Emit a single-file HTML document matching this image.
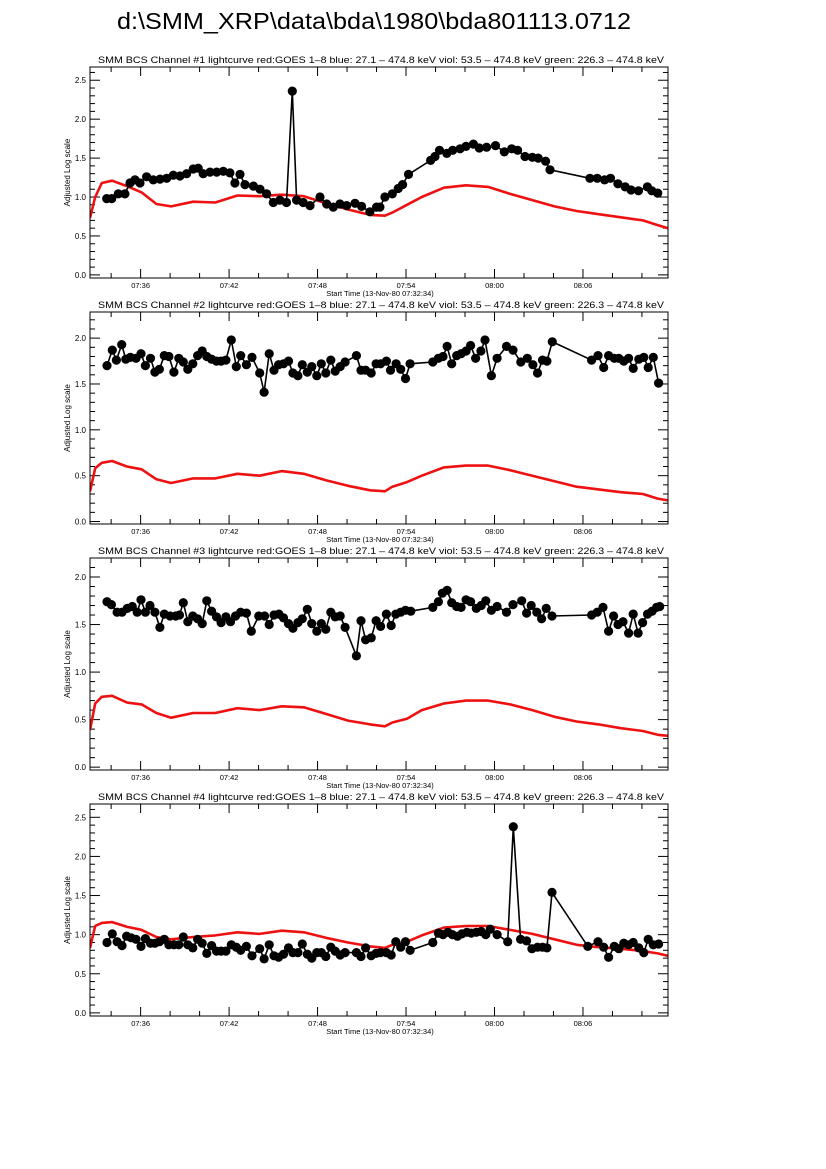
<!DOCTYPE html>
<html><head><meta charset="utf-8">
<style>
html,body{margin:0;padding:0;background:#fff;}
svg{display:block;}
text{font-family:"Liberation Sans",Arial,sans-serif;fill:#000;}
</style></head>
<body>
<svg id="chart" width="826" height="1169" viewBox="0 0 826 1169" xmlns="http://www.w3.org/2000/svg">
<rect x="0" y="0" width="826" height="1169" fill="#fff"/>
<text x="117" y="29" font-size="23" textLength="514" lengthAdjust="spacingAndGlyphs">d:\SMM_XRP\data\bda\1980\bda801113.0712</text>
</svg>
<script>
// GOES time axis (minutes after 07:32:34)
const goesT=[0,0.35,0.8,1.5,2.5,3.5,4.5,5.5,7,8.5,10,11.5,13,14.5,16,17.5,19,20,20.5,21.5,22.5,24,25.5,27,28.5,30,31.5,33,34.5,36,37.5,38.5,39.2];
const ch1Goes=[0.73,1.0,1.18,1.21,1.14,1.06,0.91,0.88,0.94,0.93,1.02,1.01,1.03,1.01,0.92,0.84,0.77,0.76,0.80,0.90,1.0,1.12,1.15,1.13,1.04,0.96,0.88,0.82,0.78,0.74,0.70,0.64,0.60];
const ch2Goes=[0.33,0.58,0.64,0.66,0.60,0.57,0.46,0.42,0.47,0.47,0.52,0.50,0.55,0.52,0.45,0.39,0.34,0.33,0.38,0.43,0.50,0.59,0.61,0.61,0.56,0.50,0.44,0.38,0.35,0.32,0.30,0.25,0.23];
const ch3Goes=[0.39,0.67,0.74,0.75,0.68,0.66,0.57,0.52,0.57,0.57,0.62,0.60,0.64,0.63,0.56,0.49,0.45,0.43,0.47,0.51,0.60,0.67,0.70,0.70,0.66,0.60,0.53,0.48,0.45,0.41,0.38,0.34,0.33];
const ch4Goes=[0.83,1.11,1.15,1.16,1.10,1.06,0.97,0.94,0.97,0.99,1.03,1.01,1.05,1.03,0.96,0.90,0.85,0.83,0.87,0.91,0.99,1.09,1.11,1.11,1.06,1.01,0.94,0.87,0.84,0.82,0.79,0.76,0.73];

const ch1T=[1.13,1.47,1.92,2.37,2.71,3.05,3.39,3.84,4.29,4.75,5.2,5.65,6.1,6.55,7.0,7.34,7.68,8.14,8.59,9.04,9.49,9.83,10.17,10.51,11.08,11.53,11.98,12.43,12.88,13.33,13.72,14.01,14.46,14.92,15.6,16.05,16.5,16.95,17.4,17.97,18.42,18.98,19.44,19.66,20.0,20.5,20.9,21.2,21.6,23.1,23.4,23.7,24.2,24.6,25.1,25.5,26.0,26.4,26.9,27.5,28.1,28.6,29.0,29.5,30.0,30.4,30.9,31.2,33.9,34.4,34.9,35.3,35.8,36.3,36.7,37.2,37.8,38.1,38.5];
const ch1V=[0.98,0.98,1.04,1.04,1.18,1.22,1.18,1.26,1.22,1.23,1.24,1.28,1.27,1.30,1.36,1.37,1.30,1.32,1.32,1.33,1.31,1.18,1.29,1.16,1.14,1.10,1.04,0.93,0.96,0.93,2.36,0.96,0.93,0.89,1.0,0.91,0.87,0.91,0.89,0.92,0.88,0.81,0.87,0.87,1.0,1.04,1.11,1.16,1.29,1.47,1.52,1.60,1.56,1.60,1.62,1.65,1.68,1.63,1.64,1.66,1.58,1.62,1.60,1.52,1.51,1.50,1.46,1.35,1.24,1.24,1.22,1.24,1.17,1.13,1.09,1.08,1.13,1.08,1.05];

const ch2T=[1.15,1.51,1.79,2.15,2.43,2.74,3.12,3.46,3.76,4.10,4.40,4.71,5.04,5.35,5.69,6.02,6.33,6.63,6.97,7.30,7.61,7.92,8.25,8.58,8.89,9.22,9.58,9.92,10.22,10.61,10.99,11.51,11.81,12.15,12.48,12.79,13.12,13.46,13.76,14.10,14.40,14.74,15.04,15.38,15.69,15.99,16.33,16.63,16.97,17.30,18.07,18.38,18.69,19.07,19.40,19.71,20.10,20.38,20.76,21.07,21.40,21.71,23.25,23.63,23.94,24.22,24.53,24.87,25.17,25.51,25.81,26.15,26.51,26.79,27.22,27.61,28.25,28.69,29.22,29.66,30.04,30.35,30.69,30.99,31.35,34.02,34.45,34.84,35.17,35.56,35.86,36.20,36.53,36.84,37.22,37.56,37.86,38.20,38.56];
const ch2V=[1.70,1.87,1.76,1.93,1.77,1.79,1.78,1.83,1.70,1.78,1.63,1.66,1.81,1.80,1.63,1.78,1.74,1.66,1.72,1.81,1.86,1.80,1.77,1.75,1.75,1.76,1.98,1.69,1.81,1.71,1.79,1.62,1.41,1.83,1.65,1.71,1.72,1.75,1.62,1.59,1.71,1.63,1.69,1.59,1.72,1.62,1.76,1.64,1.69,1.74,1.81,1.65,1.65,1.62,1.72,1.72,1.75,1.65,1.72,1.66,1.56,1.72,1.74,1.78,1.80,1.91,1.72,1.81,1.83,1.86,1.92,1.78,1.86,1.98,1.59,1.78,1.91,1.87,1.74,1.78,1.71,1.62,1.76,1.75,1.96,1.76,1.81,1.68,1.81,1.78,1.78,1.75,1.78,1.67,1.77,1.79,1.68,1.79,1.51];

const ch3T=[1.15,1.45,1.84,2.17,2.53,2.87,3.20,3.46,3.76,4.07,4.40,4.74,5.04,5.43,5.81,6.07,6.33,6.63,6.97,7.30,7.61,7.92,8.25,8.58,8.89,9.22,9.53,9.87,10.22,10.61,10.94,11.45,11.84,12.15,12.48,12.81,13.12,13.46,13.76,14.10,14.40,14.74,15.04,15.38,15.69,15.99,16.33,16.63,16.97,17.30,18.07,18.38,18.69,19.07,19.40,19.71,20.10,20.43,20.74,21.07,21.40,21.76,23.25,23.63,23.89,24.22,24.53,24.87,25.17,25.51,25.81,26.20,26.53,26.84,27.22,27.61,28.25,28.69,29.28,29.61,29.92,30.30,30.63,30.94,31.33,34.02,34.40,34.79,35.17,35.51,35.81,36.15,36.53,36.84,37.17,37.48,37.81,38.12,38.43,38.64];
const ch3V=[1.74,1.71,1.63,1.63,1.67,1.69,1.63,1.76,1.63,1.70,1.63,1.47,1.61,1.59,1.59,1.60,1.73,1.53,1.59,1.56,1.51,1.75,1.64,1.58,1.52,1.58,1.53,1.59,1.63,1.62,1.43,1.59,1.59,1.50,1.60,1.61,1.57,1.51,1.46,1.52,1.56,1.66,1.51,1.43,1.51,1.45,1.63,1.58,1.59,1.47,1.17,1.54,1.34,1.36,1.54,1.48,1.61,1.49,1.61,1.63,1.65,1.64,1.68,1.74,1.83,1.86,1.73,1.69,1.68,1.76,1.74,1.67,1.70,1.75,1.65,1.69,1.63,1.71,1.75,1.62,1.70,1.63,1.56,1.67,1.59,1.60,1.63,1.68,1.43,1.59,1.50,1.53,1.41,1.61,1.41,1.52,1.61,1.64,1.68,1.69];

const ch4T=[1.15,1.51,1.84,2.17,2.48,2.79,3.12,3.46,3.76,4.10,4.40,4.71,5.04,5.35,5.69,6.02,6.33,6.63,6.97,7.30,7.61,7.92,8.25,8.58,8.89,9.22,9.58,9.92,10.22,10.61,10.99,11.51,11.81,12.15,12.48,12.79,13.12,13.46,13.76,14.10,14.40,14.74,15.04,15.38,15.69,15.99,16.33,16.63,16.97,17.30,18.07,18.38,18.69,19.07,19.40,19.71,20.10,20.43,20.74,21.07,21.40,21.71,23.25,23.63,23.94,24.27,24.58,24.92,25.22,25.56,25.86,26.20,26.53,26.84,27.15,27.61,28.33,28.71,29.20,29.61,29.97,30.35,30.69,30.99,31.33,33.76,34.45,34.84,35.17,35.56,35.86,36.20,36.53,36.84,37.22,37.56,37.86,38.20,38.56];
const ch4V=[0.90,1.01,0.91,0.86,0.98,0.96,0.94,0.85,0.95,0.89,0.89,0.91,0.94,0.87,0.87,0.87,0.97,0.87,0.83,0.94,0.89,0.76,0.86,0.79,0.79,0.79,0.87,0.84,0.80,0.85,0.73,0.82,0.69,0.87,0.73,0.71,0.75,0.83,0.77,0.77,0.88,0.75,0.70,0.77,0.77,0.72,0.84,0.79,0.74,0.77,0.77,0.72,0.83,0.73,0.76,0.77,0.77,0.74,0.91,0.84,0.91,0.80,0.90,1.02,1.00,1.03,1.00,0.98,1.01,1.03,1.02,1.03,1.04,1.00,1.07,1.00,0.91,2.38,0.94,0.92,0.82,0.84,0.84,0.83,1.54,0.85,0.91,0.84,0.71,0.85,0.82,0.89,0.87,0.90,0.83,0.77,0.94,0.87,0.88];

const yTickVals1=[0.0,0.5,1.0,1.5,2.0,2.5];
const yTickVals2=[0.0,0.5,1.0,1.5,2.0];
const xTickLabels=["07:36","07:42","07:48","07:54","08:00","08:06"];
const xTickTimes=[3.433,9.433,15.433,21.433,27.433,33.433];

const NS="http://www.w3.org/2000/svg";
const svg=document.getElementById('chart');
function mk(tag,attrs,parent){const e=document.createElementNS(NS,tag);for(const k in attrs)e.setAttribute(k,attrs[k]);(parent||svg).appendChild(e);return e;}

const L=90,R=668,TMAX=39.2;
const panels=[
 {n:1,top:67,bot:278,ymin:-0.04,ymax:2.67,ticks:yTickVals1,goes:ch1Goes,t:ch1T,v:ch1V},
 {n:2,top:312,bot:524,ymin:-0.027,ymax:2.285,ticks:yTickVals2,goes:ch2Goes,t:ch2T,v:ch2V},
 {n:3,top:558,bot:770,ymin:-0.03,ymax:2.2,ticks:yTickVals2,goes:ch3Goes,t:ch3T,v:ch3V},
 {n:4,top:804,bot:1016,ymin:-0.04,ymax:2.67,ticks:yTickVals1,goes:ch4Goes,t:ch4T,v:ch4V}
];
const xs=t=>L+(R-L)*t/TMAX;

panels.forEach(p=>{
 const ys=v=>p.bot-(p.bot-p.top)*(v-p.ymin)/(p.ymax-p.ymin);
 const g=mk('g',{});
 
 
 const title=mk('text',{x:98,y:p.top-4,'font-size':9.3,textLength:566,lengthAdjust:'spacingAndGlyphs'},g);
 title.textContent='SMM BCS Channel #'+p.n+' lightcurve  red:GOES 1\u20138  blue: 27.1 \u2013 474.8 keV  viol: 53.5 \u2013 474.8 keV  green: 226.3 \u2013 474.8 keV';
 
 
 // y ticks
 for(let k=0;k<=Math.floor(p.ymax*10+1e-6);k++){
  const v=k/10; if(v<p.ymin) continue;
  const y=ys(v); const major=(k%5===0); const len=major?10:5;
  const t1=mk('line',{x1:L,y1:y,x2:L+len,y2:y,stroke:'#000','stroke-width':1},g);
  
  
  const t2=mk('line',{x1:R,y1:y,x2:R-len,y2:y,stroke:'#000','stroke-width':1},g);
  
  
 }
 p.ticks.forEach(v=>{
  const tx=mk('text',{x:L-4,y:ys(v)+3,'font-size':8,'text-anchor':'end'},g);
  tx.textContent=v.toFixed(1);
  
  
 });
 // x ticks (minor every 2 min)
 for(let m=-0.567;m<=TMAX;m+=2){
  if(m<0) continue;
  const x=xs(m); const major=Math.abs(((m-3.433)/6)-Math.round((m-3.433)/6))<0.01; const len=major?9:5;
  const a=mk('line',{x1:x,y1:p.bot,x2:x,y2:p.bot-len,stroke:'#000','stroke-width':1},g);
  
  
  const b=mk('line',{x1:x,y1:p.top,x2:x,y2:p.top+len,stroke:'#000','stroke-width':1},g);
  
  
 }
 xTickLabels.forEach((lab,i)=>{
  const tx=mk('text',{x:xs(xTickTimes[i]),y:p.bot+10,'font-size':7.5,'text-anchor':'middle'},g);
  tx.textContent=lab;
  
  
 });
 const xt=mk('text',{x:380,y:p.bot+18,'font-size':7.5,'text-anchor':'middle'},g);
 xt.textContent='Start Time (13-Nov-80 07:32:34)';
 
 
 const cy=(p.top+p.bot)/2;
 const yt=mk('text',{x:70,y:cy,'font-size':8,'text-anchor':'middle',transform:'rotate(-90 70 '+cy+')'},g);
 yt.textContent='Adjusted Log scale';
 
 
 // clip
 const cp=mk('clipPath',{id:'clip'+p.n},g);
 mk('rect',{x:L,y:p.top,width:R-L,height:p.bot-p.top},cp);
 // GOES red curve
 const rd=p.goes.map((v,i)=>(i?'L':'M')+xs(goesT[i]).toFixed(1)+','+ys(v).toFixed(1)).join(' ');
 const red=mk('path',{d:rd,fill:'none',stroke:'#ee1111','stroke-width':2.6,'stroke-linejoin':'round','clip-path':'url(#clip'+p.n+')'},g);
 
 
 // black data line
 const bd=p.v.map((v,i)=>(i?'L':'M')+xs(p.t[i]).toFixed(1)+','+ys(v).toFixed(1)).join(' ');
 const bl=mk('path',{d:bd,fill:'none',stroke:'#000','stroke-width':1.6},g);
 
 
 p.v.forEach((v,i)=>{
  const c=mk('circle',{cx:xs(p.t[i]).toFixed(1),cy:ys(v).toFixed(1),r:4.6,fill:'#000'},g);
  
  
 });
 const fr=mk('rect',{x:L,y:p.top,width:R-L,height:p.bot-p.top,fill:'none',stroke:'#000','stroke-width':1},g);
 
 
});
</script>
</body></html>
